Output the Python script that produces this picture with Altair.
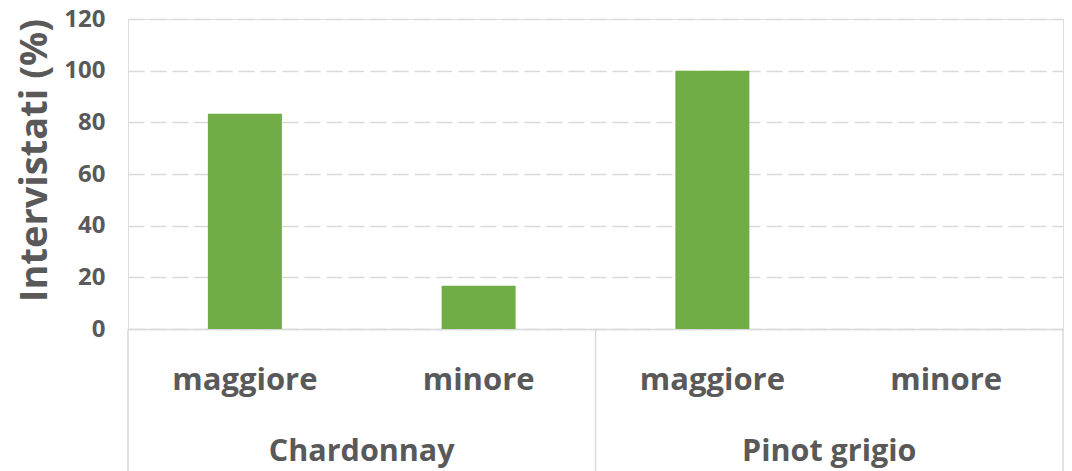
import altair as alt
import pandas as pd

varieties = ["Chardonnay", "Chardonnay", "Pinot grigio", "Pinot grigio"]
impacts = ["maggiore", "minore", "maggiore", "minore"]
values = [83.3, 16.7, 100.0, 0.0]
groups = ["Chardonnay", "Pinot grigio"]
y_ticks = [0, 20, 40, 60, 80, 100, 120]

keys = [f"{v}|{i}" for v, i in zip(varieties, impacts)]
df = pd.DataFrame({"key": keys, "variety": varieties, "impact": impacts, "value": values})

first_keys = [keys[varieties.index(g)] for g in groups]
grp_df = pd.DataFrame({"key": first_keys, "variety": groups})
last_df = pd.DataFrame({"key": [keys[-1]]})

W, H = 935, 310
TEXT = "#595959"
GRID = "#D9D9D9"
FONT = "Open Sans"

xscale = alt.Scale(domain=keys, paddingInner=0, paddingOuter=0)

bars = alt.Chart(df).mark_bar(size=74, color="#70AD47").encode(
    x=alt.X("key:N", scale=xscale, sort=keys,
            axis=alt.Axis(labels=False, ticks=False, title=None,
                          domainColor=GRID, domainWidth=1.5)),
    y=alt.Y("value:Q", scale=alt.Scale(domain=[0, 120], nice=False),
            axis=alt.Axis(values=y_ticks, title="Intervistati (%)",
                          domain=False, ticks=False,
                          labelFont=FONT, labelFontSize=24, labelFontWeight="bold",
                          labelColor=TEXT, labelPadding=23,
                          gridColor=GRID, gridDash=[16, 6], gridWidth=1.5,
                          titleFont=FONT, titleFontSize=38, titleFontWeight="bold",
                          titleColor=TEXT, titleAngle=-90, titleAlign="center",
                          titleBaseline="middle", titleX=-93, titleY=141)),
)

sub_labels = alt.Chart(df).mark_text(
    font=FONT, fontSize=31, fontWeight="bold", color=TEXT, baseline="middle"
).encode(
    x=alt.X("key:N", scale=xscale, sort=keys),
    y=alt.value(362),
    text="impact:N",
)

grp_labels = alt.Chart(grp_df).mark_text(
    font=FONT, fontSize=30.5, fontWeight="bold", color=TEXT, baseline="middle"
).encode(
    x=alt.X("key:N", scale=xscale, sort=keys, bandPosition=1),
    y=alt.value(433),
    text="variety:N",
)

sep_left = alt.Chart(grp_df).mark_rule(color=GRID, strokeWidth=1.5).encode(
    x=alt.X("key:N", scale=xscale, sort=keys, bandPosition=0),
    y=alt.value(H),
    y2=alt.value(H + 142),
)

sep_right = alt.Chart(last_df).mark_rule(color=GRID, strokeWidth=1.5).encode(
    x=alt.X("key:N", scale=xscale, sort=keys, bandPosition=1),
    y=alt.value(H),
    y2=alt.value(H + 142),
)

chart = alt.layer(bars, sep_left, sep_right, sub_labels, grp_labels).properties(
    width=W, height=H,
    autosize=alt.AutoSizeParams(type="none"),
    padding={"left": 120, "top": 11, "right": 1, "bottom": 142},
).configure_view(stroke=None).configure(background="white")

chart.save("out.html", embed_options={"renderer": "svg", "actions": False})
